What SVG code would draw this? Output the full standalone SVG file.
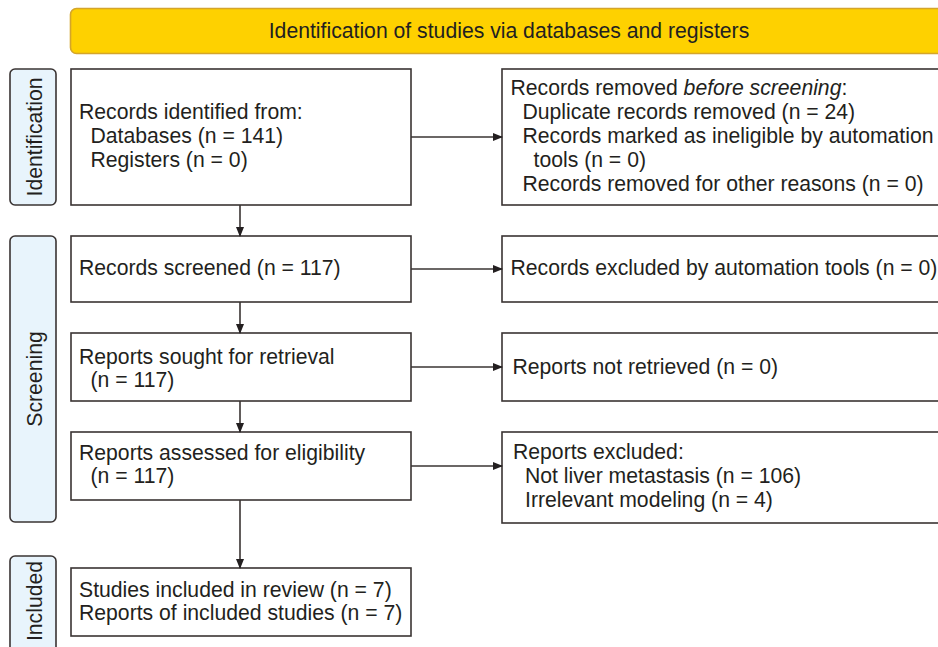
<svg xmlns="http://www.w3.org/2000/svg" width="938" height="647" viewBox="0 0 938 647">
<style>
text{font-family:"Liberation Sans",Arial,sans-serif;font-size:21.2px;fill:#231f20}
.box{fill:#fff;stroke:#3a3433;stroke-width:1.6}
.lab{fill:#e8f4fc;stroke:#3a3433;stroke-width:1.6}
.con{stroke:#3a3433;stroke-width:1.6;fill:none}
</style>
<defs>
<marker id="ah" markerWidth="10" markerHeight="8" refX="9" refY="4" orient="auto" markerUnits="userSpaceOnUse">
<path d="M0,0 L10,4 L0,8 Z" fill="#231f20"/>
</marker>
</defs>
<g id="banner">
<rect x="70.5" y="8.5" width="900" height="45" rx="6" fill="#fed100" stroke="#d4a52a" stroke-width="1.6"/>
<text x="509" y="38" text-anchor="middle">Identification of studies via databases and registers</text>
</g>
<g id="lab-identification">
<rect class="lab" x="10" y="69" width="46" height="136" rx="5"/>
<text transform="translate(42,137) rotate(-90)" text-anchor="middle">Identification</text>
</g>
<g id="lab-screening">
<rect class="lab" x="10" y="236" width="46" height="286" rx="5"/>
<text transform="translate(42,379) rotate(-90)" text-anchor="middle">Screening</text>
</g>
<g id="lab-included">
<rect class="lab" x="10" y="556" width="46" height="110" rx="5"/>
<text transform="translate(42,601) rotate(-90)" text-anchor="middle">Included</text>
</g>
<g id="n-identified">
<rect class="box" x="71" y="69" width="340" height="136"/>
<text x="79" y="119">Records identified from:</text>
<text x="90.5" y="143">Databases (n = 141)</text>
<text x="90.5" y="167">Registers (n = 0)</text>
</g>
<g id="n-removed">
<rect class="box" x="502" y="69" width="460" height="136"/>
<text x="510.5" y="95">Records removed <tspan font-style="italic">before screening</tspan>:</text>
<text x="522.5" y="119">Duplicate records removed (n = 24)</text>
<text x="522.5" y="143">Records marked as ineligible by automation</text>
<text x="533.5" y="167">tools (n = 0)</text>
<text x="522.5" y="191">Records removed for other reasons (n = 0)</text>
</g>
<g id="n-screened">
<rect class="box" x="71" y="236" width="340" height="66"/>
<text x="79" y="275">Records screened (n = 117)</text>
</g>
<g id="n-excluded-auto">
<rect class="box" x="502" y="236" width="460" height="66"/>
<text x="510.5" y="275">Records excluded by automation tools (n = 0)</text>
</g>
<g id="n-sought">
<rect class="box" x="71" y="333" width="340" height="68"/>
<text x="79" y="364">Reports sought for retrieval</text>
<text x="90.5" y="387">(n = 117)</text>
</g>
<g id="n-not-retrieved">
<rect class="box" x="502" y="333" width="460" height="68"/>
<text x="512.5" y="374">Reports not retrieved (n = 0)</text>
</g>
<g id="n-assessed">
<rect class="box" x="71" y="432" width="340" height="68"/>
<text x="79" y="460">Reports assessed for eligibility</text>
<text x="90.5" y="483">(n = 117)</text>
</g>
<g id="n-reports-excluded">
<rect class="box" x="502" y="432" width="460" height="91"/>
<text x="513" y="459">Reports excluded:</text>
<text x="525" y="483">Not liver metastasis (n = 106)</text>
<text x="525" y="507">Irrelevant modeling (n = 4)</text>
</g>
<g id="n-included">
<rect class="box" x="71" y="568" width="340" height="68"/>
<text x="79" y="597">Studies included in review (n = 7)</text>
<text x="79" y="620">Reports of included studies (n = 7)</text>
</g>
<g id="connectors">
<line class="con" x1="411" y1="137" x2="502" y2="137" marker-end="url(#ah)"/>
<line class="con" x1="411" y1="269" x2="502" y2="269" marker-end="url(#ah)"/>
<line class="con" x1="411" y1="367" x2="502" y2="367" marker-end="url(#ah)"/>
<line class="con" x1="411" y1="466" x2="502" y2="466" marker-end="url(#ah)"/>
<line class="con" x1="240" y1="205" x2="240" y2="236" marker-end="url(#ah)"/>
<line class="con" x1="240" y1="302" x2="240" y2="333" marker-end="url(#ah)"/>
<line class="con" x1="240" y1="401" x2="240" y2="432" marker-end="url(#ah)"/>
<line class="con" x1="240" y1="500" x2="240" y2="568" marker-end="url(#ah)"/>
</g>
</svg>
